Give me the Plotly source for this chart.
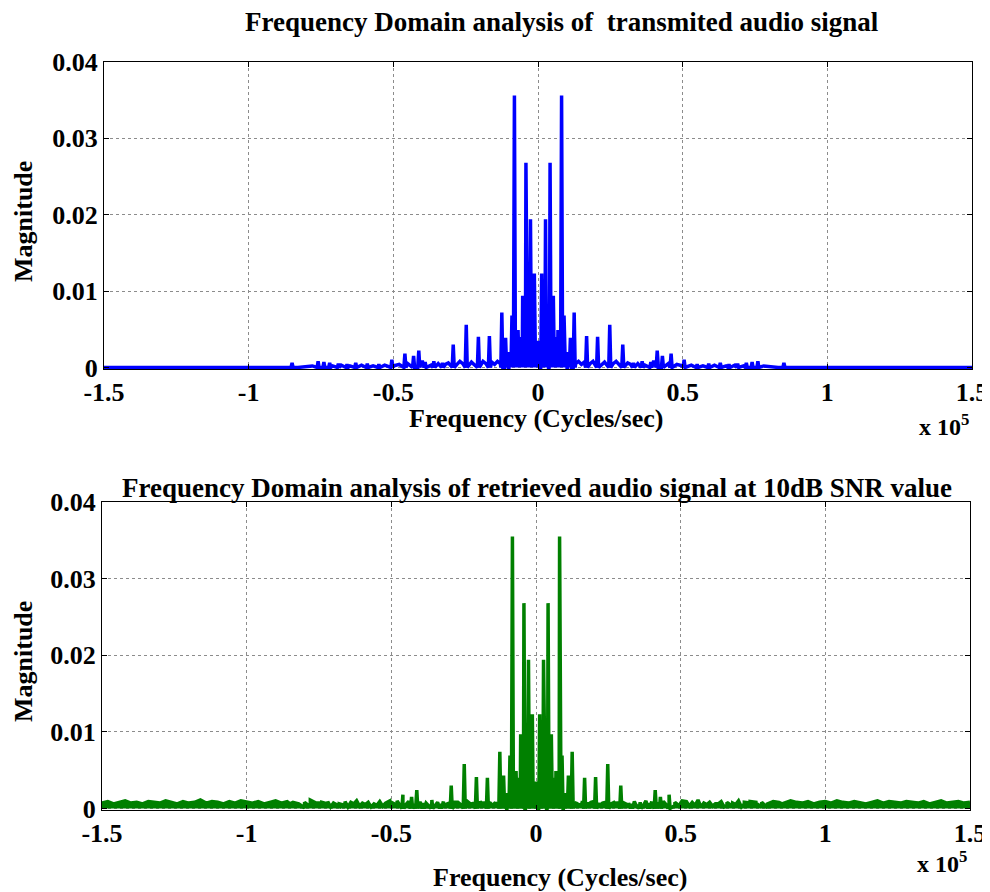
import plotly.graph_objects as go

# ---------------- data (frequency in units of 1e5 Hz) ----------------
# Positive-frequency spectral lines (mirrored onto the negative side)
peak_freq = [0.005, 0.0127, 0.019, 0.026, 0.033, 0.036, 0.0417, 0.047, 0.053, 0.058,
             0.064, 0.069, 0.075, 0.0815, 0.090, 0.098, 0.104, 0.112, 0.125, 0.168,
             0.206, 0.248, 0.293, 0.330, 0.360, 0.390, 0.412, 0.430, 0.460, 0.505,
             0.550, 0.590, 0.630, 0.660, 0.690, 0.720, 0.740, 0.760, 0.850]
peak_mag_tx = [0.0035, 0.0123, 0.0060, 0.0194, 0.0075, 0.0050, 0.0268, 0.0045, 0.0094, 0.0040,
               0.0030, 0.0049, 0.0025, 0.0356, 0.0068, 0.0015, 0.0020, 0.0039, 0.0072, 0.0041,
               0.0040, 0.0056, 0.0030, 0.0006, 0.0008, 0.0007, 0.0022, 0.0015, 0.0018, 0.0010,
               0.0004, 0.0005, 0.0006, 0.0004, 0.0005, 0.0006, 0.0007, 0.0008, 0.0006]
peak_mag_rx = [0.0035, 0.0123, 0.0060, 0.0194, 0.0075, 0.0050, 0.0268, 0.0045, 0.0097, 0.0040,
               0.0030, 0.0049, 0.0025, 0.0355, 0.0069, 0.0015, 0.0020, 0.0043, 0.0074, 0.0040,
               0.0041, 0.0058, 0.0030, 0.0006, 0.0008, 0.0007, 0.0024, 0.0015, 0.0018, 0.0010,
               0.0004, 0.0005, 0.0006, 0.0004, 0.0005, 0.0006, 0.0007, 0.0008, 0.0006]

# Positive-frequency spectral floor of the transmitted signal
floor_freq = [0.000, 0.003, 0.007, 0.010, 0.016, 0.021, 0.024, 0.030, 0.034, 0.039,
              0.045, 0.049, 0.056, 0.061, 0.066, 0.072, 0.078, 0.085, 0.088, 0.095,
              0.100, 0.108, 0.115, 0.130, 0.140, 0.150, 0.160, 0.180, 0.190, 0.220,
              0.230, 0.260, 0.270, 0.280, 0.310, 0.320, 0.345, 0.370, 0.400, 0.415,
              0.450, 0.480, 0.500, 0.530, 0.570, 0.610, 0.650, 0.680, 0.710, 0.780,
              0.800, 0.830, 1.500]
floor_mag = [0.0030, 0.0012, 0.0032, 0.0015, 0.0035, 0.0010, 0.0030, 0.0012, 0.0033, 0.0014,
             0.0030, 0.0010, 0.0028, 0.0012, 0.0025, 0.0010, 0.0022, 0.0008, 0.0018, 0.0010,
             0.0016, 0.0006, 0.0010, 0.0005, 0.0008, 0.0004, 0.0007, 0.0005, 0.0008, 0.0004,
             0.0007, 0.0005, 0.0008, 0.0004, 0.0006, 0.0004, 0.0005, 0.0003, 0.0009, 0.0006,
             0.0005, 0.0004, 0.0002, 0.0003, 0.0002, 0.0003, 0.0002, 0.0003, 0.0002, 0.0002,
             0.0001, 0.0000, 0.0000]

# Noise floor of the received signal (units of 1e-4), sampled from -1.5 to 1.5 every 0.02
noise_start, noise_step = -1.5, 0.02
noise_e4 = [7, 9, 6, 8, 10, 7, 8, 6, 9, 8, 7, 10, 8, 6, 9, 7, 8, 11, 7, 9,
            8, 6, 9, 7, 10, 8, 7, 9, 6, 8, 10, 7, 9, 8, 6, 8, 11, 7, 8, 9,
            7, 6, 9, 8, 10, 7, 8, 6, 9, 7, 8, 10, 7, 9, 6, 8, 7, 11, 8, 9,
            7, 8, 6, 10, 8, 7, 9, 8, 7, 9, 8, 6, 9, 10, 7, 8, 9, 7, 8, 6,
            9, 8, 7, 10, 8, 9, 7, 8, 6, 9, 8, 7, 9, 8, 10, 7, 8, 9, 6, 8,
            7, 9, 8, 11, 7, 8, 6, 9, 8, 7, 10, 8, 9, 7, 8, 6, 9, 8, 7, 10,
            8, 7, 9, 6, 8, 9, 7, 10, 8, 7, 9, 8, 6, 8, 10, 7, 9, 8, 7, 9,
            8, 7, 9, 6, 8, 10, 7, 8, 9, 7, 8]

x_tick_vals = [-1.5, -1, -0.5, 0, 0.5, 1, 1.5]
x_tick_text = ["-1.5", "-1", "-0.5", "0", "0.5", "1", "1.5"]
y_tick_vals = [0, 0.01, 0.02, 0.03, 0.04]
y_tick_text = ["0", "0.01", "0.02", "0.03", "0.04"]

title_top = "Frequency Domain analysis of  transmited audio signal"
title_bot = "Frequency Domain analysis of retrieved audio signal at 10dB SNR value"
x_title = "Frequency (Cycles/sec)"
y_title = "Magnitude"

# ---------------- build spectra ----------------
SPIKE_HALF = 0.0035


def spectrum(peaks_m, floor_pts):
    pts = []
    for f, m in zip(floor_freq, floor_mag):
        pts.append((f, m))
        if f > 0:
            pts.append((-f, m))
    for f, m in zip(peak_freq, peaks_m):
        for s in (1, -1):
            pts.append((s * f - SPIKE_HALF, 0.0))
            pts.append((s * f, m))
            pts.append((s * f + SPIKE_HALF, 0.0))
    pts.extend(floor_pts)
    pts.sort(key=lambda p: p[0])
    return [p[0] for p in pts], [p[1] for p in pts]


x_tx, y_tx = spectrum(peak_mag_tx, [])
noise_pts = [(noise_start + i * noise_step, v * 1e-4) for i, v in enumerate(noise_e4)]
x_rx, y_rx = spectrum(peak_mag_rx, noise_pts)
# received spectrum: drop zero floor samples where noise dominates
pairs = [(a, b) for a, b in zip(x_rx, y_rx) if not (abs(a) > 0.5 and b == 0.0)]
x_rx = [p[0] for p in pairs]
y_rx = [p[1] for p in pairs]

# ---------------- figure ----------------
# the page body adds an 8px offset, so the figure is 8px smaller and shifted
OFF = 8
W, H = 990 - OFF, 892 - OFF
FONT = "Liberation Serif, Times New Roman, serif"


def px(x):
    return (x - OFF) / W


def py(y):
    return 1 - (y - OFF) / H


fig = go.Figure()
fig.add_trace(go.Scatter(x=x_tx, y=y_tx, mode="lines",
                         line=dict(color="#0000FF", width=3.5), xaxis="x", yaxis="y",
                         showlegend=False, hoverinfo="skip"))
fig.add_trace(go.Scatter(x=x_rx, y=y_rx, mode="lines", fill="tozeroy",
                         fillcolor="#008000",
                         line=dict(color="#008000", width=3.5), xaxis="x2", yaxis="y2",
                         showlegend=False, hoverinfo="skip"))

axis_common = dict(
    showline=True, linecolor="black", linewidth=1, mirror="ticks",
    ticks="inside", ticklen=5, tickcolor="black",
    showgrid=True, gridcolor="#8c8c8c", griddash="dot", gridwidth=1,
    zeroline=False, automargin=False, ticklabeloverflow="allow",
    tickfont=dict(family=FONT, size=26, color="black", weight="bold"),
)

fig.update_layout(
    width=W, height=H,
    margin=dict(l=0, r=0, t=0, b=0, autoexpand=False),
    paper_bgcolor="white", plot_bgcolor="white",
    xaxis=dict(domain=[px(104), px(972)], range=[-1.5, 1.5], anchor="y",
               tickvals=x_tick_vals, ticktext=x_tick_text, **axis_common),
    yaxis=dict(domain=[py(369), py(62)], range=[-0.0002, 0.04], anchor="x",
               tickvals=y_tick_vals, ticktext=y_tick_text, **axis_common),
    xaxis2=dict(domain=[px(102), px(970)], range=[-1.5, 1.5], anchor="y2",
                tickvals=x_tick_vals, ticktext=x_tick_text, **axis_common),
    yaxis2=dict(domain=[py(810), py(502)], range=[-0.0002, 0.04], anchor="x2",
                tickvals=y_tick_vals, ticktext=y_tick_text, **axis_common),
)

bold = lambda s: dict(family=FONT, size=s, color="black", weight="bold")
annos = [
    dict(text=title_top, x=px(562), y=py(22), font=bold(27)),
    dict(text=title_bot, x=px(537), y=py(488), font=bold(27)),
    dict(text=x_title, x=px(536), y=py(418), font=bold(26)),
    dict(text=x_title, x=px(560), y=py(877), font=bold(26)),
    dict(text="x 10<sup>5</sup>", x=px(944), y=py(425), font=bold(24)),
    dict(text="x 10<sup>5</sup>", x=px(942), y=py(862), font=bold(24)),
    dict(text=y_title, x=px(23), y=py(222), font=bold(26), textangle=-90),
    dict(text=y_title, x=px(23), y=py(662), font=bold(26), textangle=-90),
]
for a in annos:
    fig.add_annotation(xref="paper", yref="paper", showarrow=False,
                       xanchor="center", yanchor="middle", **a)

fig.write_html("out.html")
